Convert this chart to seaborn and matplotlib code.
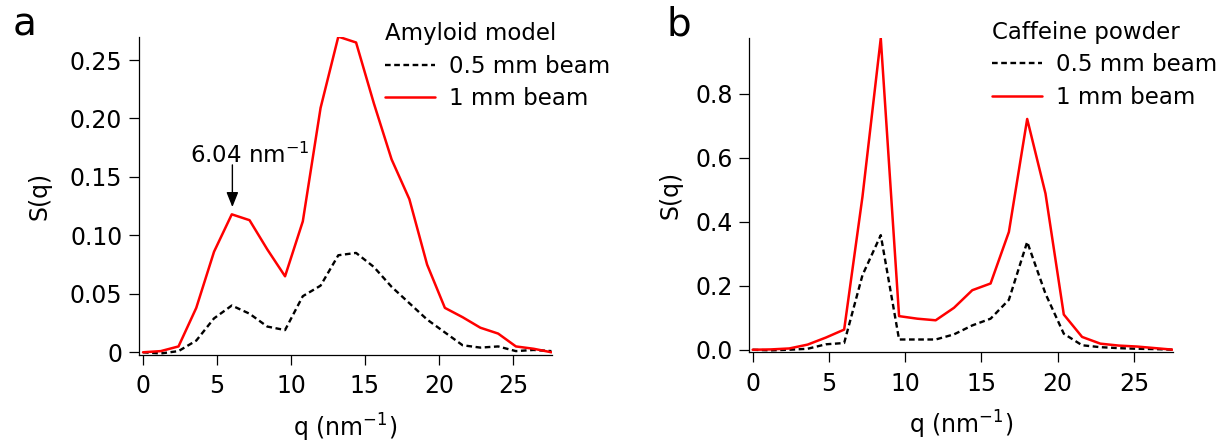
import numpy as np
import pandas as pd
import matplotlib
matplotlib.use("Agg")
import matplotlib.pyplot as plt
import seaborn as sns

### 데이터
q = [0.0, 1.2, 2.4, 3.6, 4.8, 6.0, 7.2, 8.4, 9.6, 10.8, 12.0, 13.2,
     14.4, 15.6, 16.8, 18.0, 19.2, 20.4, 21.6, 22.8, 24.0, 25.2, 26.4, 27.6]

amyloid_05mm = [0.000, -0.001, 0.001, 0.010, 0.029, 0.040, 0.033, 0.022, 0.019, 0.048, 0.057, 0.083,
                0.085, 0.073, 0.056, 0.042, 0.028, 0.017, 0.006, 0.004, 0.005, 0.001, 0.002, 0.001]
amyloid_1mm = [0.000, 0.001, 0.005, 0.038, 0.086, 0.118, 0.113, 0.088, 0.065, 0.112, 0.209, 0.270,
               0.265, 0.213, 0.165, 0.131, 0.075, 0.038, 0.030, 0.021, 0.016, 0.005, 0.003, 0.000]

caffeine_05mm = [0.000, -0.002, 0.000, 0.003, 0.017, 0.021, 0.233, 0.358, 0.032, 0.032, 0.032, 0.048,
                 0.076, 0.097, 0.156, 0.337, 0.175, 0.050, 0.014, 0.008, 0.005, 0.003, 0.002, 0.000]
caffeine_1mm = [0.000, 0.001, 0.004, 0.016, 0.038, 0.063, 0.478, 0.973, 0.105, 0.097, 0.092, 0.131,
                0.186, 0.207, 0.368, 0.721, 0.488, 0.110, 0.040, 0.019, 0.013, 0.010, 0.005, 0.000]

series_labels = ["0.5 mm beam", "1 mm beam"]
x_ticks = [0, 5, 10, 15, 20, 25]
a_yticks = [0, 0.05, 0.10, 0.15, 0.20, 0.25]
a_yticklabels = ["0", "0.05", "0.10", "0.15", "0.20", "0.25"]
b_yticks = [0, 0.2, 0.4, 0.6, 0.8]
b_yticklabels = ["0.0", "0.2", "0.4", "0.6", "0.8"]

### 스타일
sns.set_theme(style="ticks")
plt.rcParams["font.family"] = ["DejaVu Sans"]
plt.rcParams["mathtext.fontset"] = "dejavusans"
plt.rcParams["mathtext.default"] = "regular"
plt.rcParams["axes.unicode_minus"] = False
plt.rcParams["text.color"] = "black"
plt.rcParams["axes.labelcolor"] = "black"
plt.rcParams["legend.labelcolor"] = "black"

W, H = 1225, 444
fig = plt.figure(figsize=(W / 100, H / 100), dpi=100)
ax_a = fig.add_axes([139 / W, 1 - 354.5 / H, 413 / W, 317.5 / H])
ax_b = fig.add_axes([749.3 / W, 1 - 352.3 / H, 424 / W, 314 / H])

FS = 17
dash = (0, (2.4, 1.5))


def draw_panel(ax, y05, y1, title, xlim, ylim, yticks, yticklabels, ylabel_x, leg_xy):
    sns.lineplot(x=q, y=y05, ax=ax, color="black", lw=1.7, linestyle=dash, label=series_labels[0])
    sns.lineplot(x=q, y=y1, ax=ax, color="#ff0000", lw=1.8, label=series_labels[1])
    ax.set_xlim(*xlim)
    ax.set_ylim(*ylim)
    ax.set_xticks(x_ticks)
    ax.set_xticklabels([str(t) for t in x_ticks])
    ax.set_yticks(yticks)
    ax.set_yticklabels(yticklabels)
    for s in ["top", "right"]:
        ax.spines[s].set_visible(False)
    for s in ["left", "bottom"]:
        ax.spines[s].set_linewidth(0.9)
        ax.spines[s].set_color("black")
    ax.tick_params(axis="both", direction="out", length=7, width=0.9, color="black",
                   labelsize=FS, labelcolor="black")
    ax.tick_params(axis="x", pad=7)
    ax.tick_params(axis="y", pad=5)
    ax.set_xlabel("q (nm$^{-1}$)", fontsize=FS, color="black")
    ax.xaxis.set_label_coords(0.5, -0.18)
    ax.set_ylabel("S(q)", fontsize=FS, color="black", va="center")
    ax.yaxis.set_label_coords(ylabel_x, 0.5)
    leg = ax.legend(title=title, loc="upper left", bbox_to_anchor=leg_xy,
                    bbox_transform=fig.transFigure, frameon=False, fontsize=16.5,
                    title_fontsize=16.5, borderpad=0, borderaxespad=0,
                    handlelength=2.2, handletextpad=0.6, labelspacing=0.42,
                    alignment="left")
    leg.get_title().set_color("black")
    return leg


draw_panel(ax_a, amyloid_05mm, amyloid_1mm, "Amyloid model",
           (-0.27, 27.64), (-0.0019, 0.2697), a_yticks, a_yticklabels,
           -0.24, (385 / W, 1 - 22 / H))
draw_panel(ax_b, caffeine_05mm, caffeine_1mm, "Caffeine powder",
           (-0.22, 27.58), (-0.008, 0.973), b_yticks, b_yticklabels,
           -0.185, (992 / W, 1 - 20.5 / H))

### 6.04 nm^-1 피크 표시
ax_a.annotate("", xy=(6.04, 0.1242), xytext=(6.04, 0.1603),
              arrowprops=dict(arrowstyle="-|>,head_length=0.45,head_width=0.18",
                              color="black", lw=1, shrinkA=0, shrinkB=0,
                              mutation_scale=20))
ax_a.text(3.18, 0.1624, "6.04 nm$^{-1}$", fontsize=16.5, ha="left", va="baseline",
          color="black")

### 패널 라벨
fig.text(13 / W, 1 - 35 / H, "a", fontsize=28, va="baseline", ha="left", color="black")
fig.text(667 / W, 1 - 35 / H, "b", fontsize=28, va="baseline", ha="left", color="black")

fig.savefig("out.png", dpi=100)
